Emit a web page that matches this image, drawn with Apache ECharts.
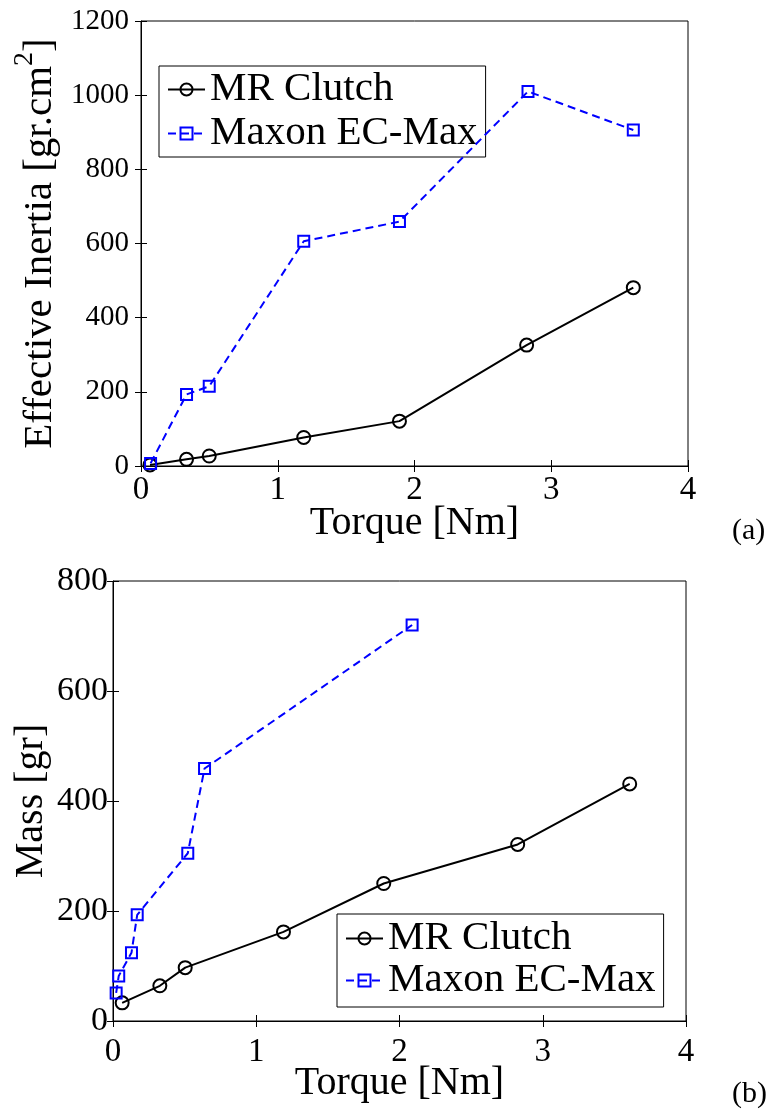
<!DOCTYPE html>
<html><head><meta charset="utf-8">
<script src="https://cdn.jsdelivr.net/npm/echarts@6/dist/echarts.min.js"></script>
<style>html,body{margin:0;padding:0;background:#fff}#c{width:768px;height:1110px}</style>
</head><body><div id="c"></div>
<script>
// ---- data ----
const seriesNames = ['MR Clutch', 'Maxon EC-Max'];
// (a) Effective inertia vs torque
const torqueA_MR = [0.066, 0.333, 0.499, 1.19, 1.89, 2.82, 3.60];
const inertiaMR = [3, 18, 27, 77, 121, 326, 481];
const torqueA_Maxon = [0.07, 0.333, 0.499, 1.19, 1.89, 2.83, 3.60];
const inertiaMaxon = [7, 193, 215, 606, 659, 1010, 906];
// (b) Mass vs torque
const torqueB_MR = [0.064, 0.327, 0.504, 1.19, 1.89, 2.825, 3.607];
const massMR = [33, 64, 97, 162, 250, 321, 431];
const torqueB_Maxon = [0.022, 0.04, 0.129, 0.169, 0.522, 0.639, 2.088];
const massMaxon = [51, 82, 124, 193, 305, 459, 720];
// axes
const xTicks = [0, 1, 2, 3, 4];
const yTicksA = [0, 200, 400, 600, 800, 1000, 1200];
const yTicksB = [0, 200, 400, 600, 800];
const panelLabels = ['(a)', '(b)'];

const FONT = '"Liberation Serif", "Times New Roman", serif';
const pairs = (xs, ys) => xs.map((x, i) => [x, ys[i]]);
const plain = v => String(v);

function xAx(grid, pos, ticks, showLabels, fs, margin, nameGap) {
  return {
    type: 'value', gridIndex: grid, position: pos,
    min: ticks[0], max: ticks[ticks.length - 1], interval: ticks[1] - ticks[0],
    axisLine: { show: pos === 'bottom', lineStyle: { color: '#000', width: 1 } },
    axisTick: { show: true, inside: true, length: 6, lineStyle: { color: '#000', width: 1 } },
    axisLabel: { show: showLabels, color: '#000', fontFamily: FONT, fontSize: fs, margin: margin, formatter: plain },
    splitLine: { show: false },
    name: showLabels ? 'Torque [Nm]' : '', nameLocation: 'middle', nameGap: nameGap, nameMoveOverlap: false,
    nameTextStyle: { color: '#000', fontFamily: FONT, fontSize: 40 }
  };
}
function yAx(grid, pos, ticks, showLabels, fs, margin, name, nameGap, rich) {
  const o = {
    type: 'value', gridIndex: grid, position: pos,
    min: ticks[0], max: ticks[ticks.length - 1], interval: ticks[1] - ticks[0],
    axisLine: { show: pos === 'left', lineStyle: { color: '#000', width: 1 } },
    axisTick: { show: true, inside: true, length: 6, lineStyle: { color: '#000', width: 1 } },
    axisLabel: { show: showLabels, color: '#000', fontFamily: FONT, fontSize: fs, margin: margin, formatter: plain },
    splitLine: { show: false },
    name: name, nameLocation: 'middle', nameGap: nameGap, nameMoveOverlap: false,
    nameTextStyle: { color: '#000', fontFamily: FONT, fontSize: 40 }
  };
  if (rich) o.nameTextStyle.rich = rich;
  return o;
}

const mrStyle = {
  type: 'line', symbol: 'circle', symbolSize: 13,
  lineStyle: { color: '#000', width: 2, type: 'solid' },
  itemStyle: { color: 'rgba(255,255,255,0)', borderColor: '#000', borderWidth: 2 },
  color: '#000', z: 3
};
const maxStyle = {
  type: 'line', symbol: 'rect', symbolSize: 11,
  lineStyle: { color: '#0000ff', width: 2, type: [8, 5] },
  itemStyle: { color: 'rgba(255,255,255,0)', borderColor: '#0000ff', borderWidth: 2 },
  color: '#0000ff', z: 4
};

const legendBase = {
  orient: 'vertical', itemWidth: 37, itemHeight: 15, selectedMode: false,
  borderColor: '#000', borderWidth: 1, backgroundColor: '#fff', borderRadius: 0,
  data: seriesNames
};

const gridBase = { show: true, borderColor: '#000', borderWidth: 1, backgroundColor: 'rgba(0,0,0,0)', containLabel: false, outerBoundsMode: 'none' };

const option = {
  animation: false,
  backgroundColor: '#fff',
  grid: [
    Object.assign({ left: 141, right: 80, top: 21, height: 445 }, gridBase),
    Object.assign({ left: 113, right: 82, top: 581, height: 440 }, gridBase)
  ],
  xAxis: [
    xAx(0, 'bottom', xTicks, true, 33, 8, 37),
    xAx(0, 'top', xTicks, false, 33, 8, 0),
    xAx(1, 'bottom', xTicks, true, 33, 15, 42),
    xAx(1, 'top', xTicks, false, 33, 8, 0)
  ],
  yAxis: [
    yAx(0, 'left', yTicksA, true, 29, 12, '{t|Effective Inertia [gr.cm}{s|2}{t|]}', 80, {
      t: { fontFamily: FONT, fontSize: 41, color: '#000', lineHeight: 50, verticalAlign: 'bottom' },
      s: { fontFamily: FONT, fontSize: 28, color: '#000', lineHeight: 28, verticalAlign: 'top' }
    }),
    yAx(0, 'right', yTicksA, false, 29, 8, '', 0),
    yAx(1, 'left', yTicksB, true, 34, 5, 'Mass [gr]', 62),
    yAx(1, 'right', yTicksB, false, 34, 8, '', 0)
  ],
  legend: [
    Object.assign({}, legendBase, {
      left: 159, top: 66, itemGap: 3, padding: [3, 8, 3, 8],
      textStyle: { fontFamily: FONT, fontSize: 41, color: '#000', lineHeight: 40 }
    }),
    Object.assign({}, legendBase, {
      left: 337, top: 914, itemGap: 1, padding: [4, 8, 6, 8],
      textStyle: { fontFamily: FONT, fontSize: 41, color: '#000', lineHeight: 38 }
    })
  ],
  series: [
    Object.assign({}, mrStyle, { name: seriesNames[0], xAxisIndex: 0, yAxisIndex: 0, data: pairs(torqueA_MR, inertiaMR) }),
    Object.assign({}, maxStyle, { name: seriesNames[1], xAxisIndex: 0, yAxisIndex: 0, data: pairs(torqueA_Maxon, inertiaMaxon) }),
    Object.assign({}, mrStyle, { name: seriesNames[0], xAxisIndex: 2, yAxisIndex: 2, data: pairs(torqueB_MR, massMR) }),
    Object.assign({}, maxStyle, { name: seriesNames[1], xAxisIndex: 2, yAxisIndex: 2, data: pairs(torqueB_Maxon, massMaxon) })
  ],
  graphic: [
    { type: 'text', left: 732, top: 516, style: { text: panelLabels[0], font: '30px ' + FONT, fill: '#000' } },
    { type: 'text', left: 732, top: 1079, style: { text: panelLabels[1], font: '30px ' + FONT, fill: '#000' } }
  ]
};

const chart = echarts.init(document.getElementById('c'), null, { renderer: 'canvas' });
chart.setOption(option);
</script>
</body></html>
